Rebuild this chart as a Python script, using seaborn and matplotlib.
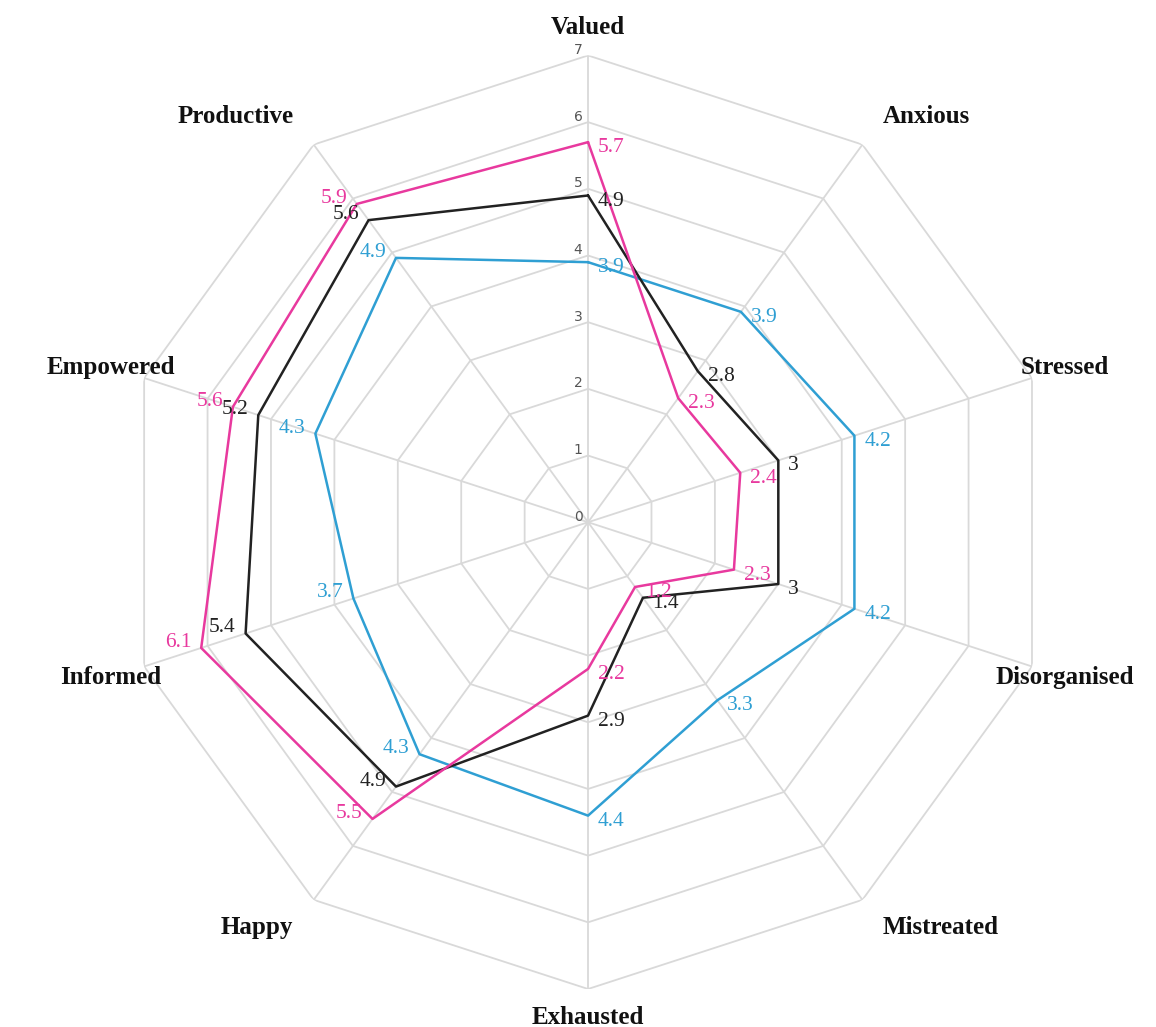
import numpy as np
import pandas as pd
import matplotlib
matplotlib.use("Agg")
import matplotlib.pyplot as plt
import seaborn as sns

categories = ["Valued", "Anxious", "Stressed", "Disorganised", "Mistreated",
              "Exhausted", "Happy", "Informed", "Empowered", "Productive"]
pink_vals = [5.7, 2.3, 2.4, 2.3, 1.2, 2.2, 5.5, 6.1, 5.6, 5.9]
black_vals = [4.9, 2.8, 3.0, 3.0, 1.4, 2.9, 4.9, 5.4, 5.2, 5.6]
blue_vals = [3.9, 3.9, 4.2, 4.2, 3.3, 4.4, 4.3, 3.7, 4.3, 4.9]
radial_ticks = [0, 1, 2, 3, 4, 5, 6, 7]

series = {"blue": blue_vals, "black": black_vals, "pink": pink_vals}
colors = {"pink": "#e8399e", "black": "#222222", "blue": "#2f9fd3"}

sns.set_style("white")
plt.rcParams["font.family"] = ["Liberation Serif", "DejaVu Serif"]

n = len(categories)
theta = np.linspace(0, 2 * np.pi, n, endpoint=False)
theta_closed = np.append(theta, 2 * np.pi)

rows = []
for name, vals in series.items():
    for t, v in zip(theta_closed, vals + vals[:1]):
        rows.append({"theta": t, "value": v, "series": name})
df = pd.DataFrame(rows)

fig = plt.figure(figsize=(11.56, 10.27), dpi=100)
ax = fig.add_axes([0.1047, 0.037, 0.808, 0.909], projection="polar")
ax.set_theta_zero_location("N")
ax.set_theta_direction(-1)
ax.set_ylim(0, 7)
ax.grid(False)
ax.spines["polar"].set_visible(False)
ax.set_xticks([])
ax.set_yticks([])

# decagon grid + spokes
grid_col = "#d9d9d9"
for r in radial_ticks[1:]:
    ax.plot(theta_closed, [r] * (n + 1), color=grid_col, lw=1.3, zorder=1)
for t in theta:
    ax.plot([t, t], [0, 7], color=grid_col, lw=1.3, zorder=1)

sns.lineplot(data=df, x="theta", y="value", hue="series", palette=colors,
             sort=False, estimator=None, units="series", legend=False,
             linewidth=1.8, ax=ax, zorder=3)
ax.set_xlabel("")
ax.set_ylabel("")

# radial tick labels along the Valued spoke
for r in radial_ticks:
    ax.annotate(str(r), xy=(0, r), xytext=(-4, 4), textcoords="offset points",
                ha="right", va="center", fontsize=10, color="#555555",
                family="DejaVu Sans")

# value labels
for name, vals in series.items():
    for t, v in zip(theta, vals):
        s = np.sin(t)
        if s < -0.01:
            ha, dx, dy = "right", -7, 4
        else:
            ha, dx, dy = "left", 7, -4
        ax.annotate(f"{v:g}", xy=(t, v), xytext=(dx, dy), textcoords="offset points",
                    ha=ha, va="center", fontsize=15.5, color=colors[name], zorder=4)

# category labels
for t, lab in zip(theta, categories):
    s = np.sin(t)
    if abs(s) < 0.01 or abs(s) > 0.9:
        ha = "center"
    elif s > 0:
        ha = "left"
    else:
        ha = "right"
    r = 7.52 if abs(s) > 0.01 else 7.42
    ax.text(t, r, lab, ha=ha, va="center", fontsize=18, fontweight="bold",
            color="#111111")

fig.savefig("out.png", dpi=100, facecolor="white")
